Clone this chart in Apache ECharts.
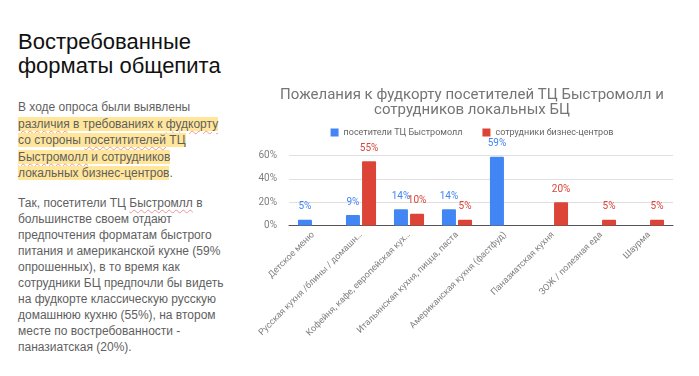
<!DOCTYPE html>
<html>
<head>
<meta charset="utf-8">
<script src="https://cdn.jsdelivr.net/npm/echarts@6/dist/echarts.min.js"></script>
<style>
  html, body { margin: 0; padding: 0; background: #fff; }
  body { width: 699px; height: 376px; position: relative; overflow: hidden; font-family: "Liberation Sans", Arial, sans-serif; }
  .head { position: absolute; left: 18px; top: 30px; font-size: 22px; line-height: 24px; color: #111; white-space: nowrap; }
  .txt { position: absolute; left: 18px; font-size: 12px; color: #5f5f5f; white-space: nowrap; }
  .p1 { top: 99px; line-height: 16.5px; }
  .p2 { top: 195px; line-height: 16px; }
  .hl { background: #ffe69b; }
  .sp { text-decoration: underline wavy rgba(220, 80, 80, 0.55); text-decoration-thickness: 1px; text-underline-offset: 2px; }
  #chart { position: absolute; left: 245px; top: 70px; width: 454px; height: 300px; }
</style>
</head>
<body>
<div class="head">Востребованные<br>форматы общепита</div>
<div class="txt p1">
  В ходе опроса были выявлены<br>
  <span class="hl"><span class="sp">различия</span> в требованиях к <span class="sp">фудкорту</span></span><br>
  <span class="hl">со стороны <span class="sp">посетитителей</span> ТЦ</span><br>
  <span class="hl"><span class="sp">Быстромолл</span> и сотрудников</span><br>
  <span class="hl">локальных бизнес-центров</span>.
</div>
<div class="txt p2">
  Так, посетители ТЦ <span class="sp">Быстромлл</span> в<br>
  большинстве своем отдают<br>
  предпочтения форматам быстрого<br>
  питания и американской кухне (59%<br>
  опрошенных), в то время как<br>
  сотрудники БЦ предпочли бы видеть<br>
  на фудкорте классическую русскую<br>
  домашнюю кухню (55%), на втором<br>
  месте по востребованности -<br>
  паназиатская (20%).
</div>
<div id="chart"></div>
<script>
const categories = [
  "Детское меню",
  "Русская кухня /блины / домашн…",
  "Кофейня, кафе, европейская кух…",
  "Итальянская кухня, пицца, паста",
  "Американская кухня (фастфуд)",
  "Паназиатская кухня",
  "ЗОЖ / полезная еда",
  "Шаурма"
];
const seriesNames = ["посетители ТЦ Быстромолл", "сотрудники бизнес-центров"];
const visitors = [5, 9, 14, 14, 59, null, null, null];
const employees = [null, 55, 10, 5, null, 20, 5, 5];
const yTicks = [0, 20, 40, 60];

const chart = echarts.init(document.getElementById("chart"));

function barSeries(name, data, color) {
  return {
    name: name,
    type: "bar",
    data: data,
    barWidth: 14,
    barGap: "15%",
    itemStyle: { color: color, borderRadius: [1, 1, 0, 0] },
    label: {
      show: true,
      position: "top",
      distance: 8,
      color: color,
      fontSize: 10,
      formatter: (p) => p.value + "%"
    }
  };
}

chart.setOption({
  animation: false,
  textStyle: { fontFamily: "Roboto, 'Liberation Sans', Arial, sans-serif" },
  title: {
    text: "Пожелания к фудкорту посетителей ТЦ Быстромолл и\nсотрудников локальных БЦ",
    left: "center",
    top: 13,
    textStyle: { fontSize: 15, fontWeight: "normal", color: "#757575", lineHeight: 15 }
  },
  legend: {
    top: 53,
    left: "center",
    itemWidth: 8,
    itemHeight: 8,
    itemGap: 20,
    icon: "rect",
    textStyle: { fontSize: 9, color: "#666" },
    data: seriesNames
  },
  grid: { left: 44, right: 26, top: 85.5, bottom: 144.5 },
  xAxis: {
    type: "category",
    data: categories,
    axisTick: { show: false },
    axisLine: { lineStyle: { color: "#555" } },
    axisLabel: { rotate: 45, fontSize: 9, color: "#808080", margin: 8, interval: 0 }
  },
  yAxis: {
    type: "value",
    min: yTicks[0],
    max: yTicks[yTicks.length - 1],
    interval: 20,
    axisLabel: { formatter: "{value}%", fontSize: 10, color: "#808080", margin: 12 },
    splitLine: { lineStyle: { color: "#e0e0e0" } }
  },
  series: [
    barSeries(seriesNames[0], visitors, "#4285f4"),
    barSeries(seriesNames[1], employees, "#db4437")
  ]
});
</script>
</body>
</html>
